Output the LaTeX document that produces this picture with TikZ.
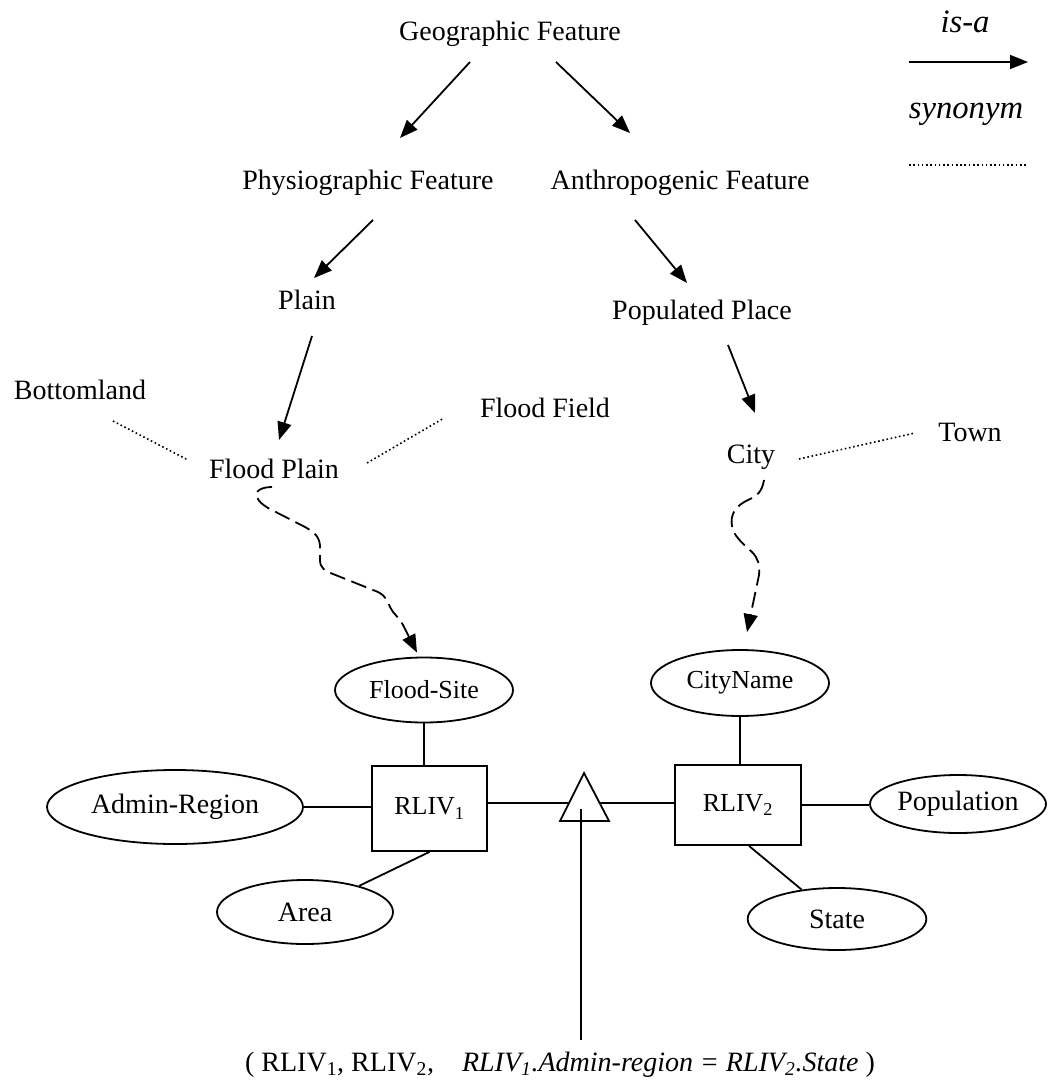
\documentclass[tikz,border=0pt]{standalone}
\usepackage{fontspec}
\setmainfont{Liberation Serif}
\usetikzlibrary{arrows.meta,shapes.geometric,calc}

\newcommand\lblfont{\fontsize{21}{25}\selectfont}
\newcommand\erfont{\fontsize{19.5}{23}\selectfont}
\newcommand\legfont{\fontsize{24.5}{29}\selectfont\itshape}

\tikzset{
  lbl/.style={font=\lblfont, inner sep=0pt, anchor=base},
  isa/.style={line width=1.35pt, -{Triangle[length=13.5pt,width=10.5pt]}},
  syn/.style={line width=1.2pt, dotted},
  lnk/.style={line width=1.35pt, dash pattern=on 12pt off 5pt,
              -{Triangle[length=13.5pt,width=10.5pt]}},
  attr/.style={draw, ellipse, line width=1.35pt, inner sep=0pt},
  ent/.style={draw, rectangle, line width=1.35pt, inner sep=0pt, font=\erfont},
  er/.style={line width=1.35pt}
}

\begin{document}
\begin{tikzpicture}[x=0.75pt,y=-0.75pt]
\useasboundingbox (0,0) rectangle (1047,1088);

% ---- taxonomy of feature types ----
\node[lbl] (geo)    at (510,41)  {Geographic Feature};
\node[lbl] (phys)   at (368,189) {Physiographic Feature};
\node[lbl] (anth)   at (680,189) {Anthropogenic Feature};
\node[lbl] (plain)  at (307,309) {Plain};
\node[lbl] (pop)    at (702,319) {Populated Place};
\node[lbl] (bottom) at (80,399)  {Bottomland};
\node[lbl] (ffield) at (545,417) {Flood Field};
\node[lbl] (fp)     at (274,478) {Flood Plain};
\node[lbl] (city)   at (751,463) {City};
\node[lbl] (town)   at (970,441) {Town};

% is-a links
\draw[isa] ($(geo.base)+(-40,21)$)   -- ($(phys.base)+(32,-51)$);
\draw[isa] ($(geo.base)+(46,21)$)    -- ($(anth.base)+(-50,-56)$);
\draw[isa] ($(phys.base)+(5,31)$)    -- ($(plain.base)+(7,-31)$);
\draw[isa] ($(anth.base)+(-45,31)$)  -- ($(pop.base)+(-15,-36)$);
\draw[isa] ($(plain.base)+(5,27)$)   -- ($(fp.base)+(5,-38)$);
\draw[isa] ($(pop.base)+(26,26)$)    -- ($(city.base)+(4,-50)$);

% synonym links
\draw[syn] ($(bottom.base)+(33,22)$) -- ($(fp.base)+(-86,-18)$);
\draw[syn] ($(fp.base)+(93,-15)$)    -- ($(ffield.base)+(-101,1)$);
\draw[syn] ($(city.base)+(48,-4)$)   -- ($(town.base)+(-55,-8)$);

% ---- schema side ----
\node[attr, minimum width=133.5pt, minimum height=48.75pt, font=\erfont] (fsite) at (424,690) {Flood-Site};
\node[attr, minimum width=192pt,   minimum height=55.5pt,  font=\lblfont] (admin) at (175,807) {Admin-Region};
\node[attr, minimum width=133.5pt, minimum height=49.5pt,  font=\erfont] (cname) at (740,683) {CityName};
\node[attr, minimum width=132pt,   minimum height=43.5pt,  font=\lblfont] (popl)  at (958,804) {Population};
\node[attr, minimum width=132pt,   minimum height=48pt,    font=\lblfont] (area)  at (305,912) {Area};
\node[attr, minimum width=134pt,   minimum height=46.5pt,  font=\lblfont] (state) at (837,919) {State};

\node[ent, minimum width=86.25pt, minimum height=63.75pt] (r1) at (429.5,808.5) {RLIV\textsubscript{1}};
\node[ent, minimum width=94.5pt,  minimum height=60pt]    (r2) at (738,805)     {RLIV\textsubscript{2}};

% join triangle
\coordinate (tapex) at (584,773);
\coordinate (tleft) at (560,821);
\coordinate (tright) at (609,821);
\coordinate (tl) at (569,803);
\coordinate (tr) at (599,803);
\coordinate (tin) at (581,809);
\draw[er, line join=miter] (tapex) -- (tright) -- (tleft) -- cycle;

\node[lbl] (cond) at (560,1071)
  {( RLIV\textsubscript{1}, RLIV\textsubscript{2},\quad \textit{RLIV\textsubscript{1}.Admin-region = RLIV\textsubscript{2}.State} )};

\draw[er] (tin) -- (tin |- 0,1040);

\draw[er] (fsite.south) -- (fsite.south |- r1.north);
\draw[er] (admin.east) -- (admin.east -| r1.west);
\draw[er] (r1.south) -- (area);
\draw[er] (r1.east |- tl) -- (tl);
\draw[er] (tr) -- (tr -| r2.west);
\draw[er] (cname.south) -- (cname.south |- r2.north);
\draw[er] (r2.east) -- (r2.east -| popl.west);
\draw[er] ($(r2.south)+(11,0)$) -- (state);

% ---- links from feature types to schema elements ----
\draw[lnk] ($(fp.base)+(-2,9)$)
   .. controls (262,487) and (254,491) .. (257,497)
   .. controls (259,502) and (262,504) .. (268,508)
   -- (305,527)
   .. controls (318,534) and (320,540) .. (320,548)
   -- (320,560)
   .. controls (320,568) and (325,571) .. (333,574)
   -- (378,592)
   .. controls (386,596) and (388,602) .. (390,607)
   .. controls (393,614) and (400,618) .. (403,625)
   -- ($(fsite.north)+(-7,-4)$);

\draw[lnk] ($(city.base)+(13,17)$)
   .. controls (762,492) and (757,496) .. (748,500)
   .. controls (735,506) and (730,515) .. (732,526)
   .. controls (733,535) and (742,543) .. (752,552)
   .. controls (758,558) and (760,565) .. (759,575)
   -- ($(cname.north)+(7,-17)$);

% ---- legend ----
\node[font=\legfont, inner sep=0pt, anchor=base] (leg1) at (965,33) {is-a};
\node[font=\legfont, inner sep=0pt, anchor=base] (leg2) at (966,118) {synonym};
\coordinate (la) at (909,62);
\coordinate (lb) at (1028,62);
\coordinate (lc) at (909,165);
\coordinate (ld) at (1028,165);
\draw[isa] (la) -- (lb);
\draw[syn] (lc) -- (ld);
\end{tikzpicture}
\end{document}
